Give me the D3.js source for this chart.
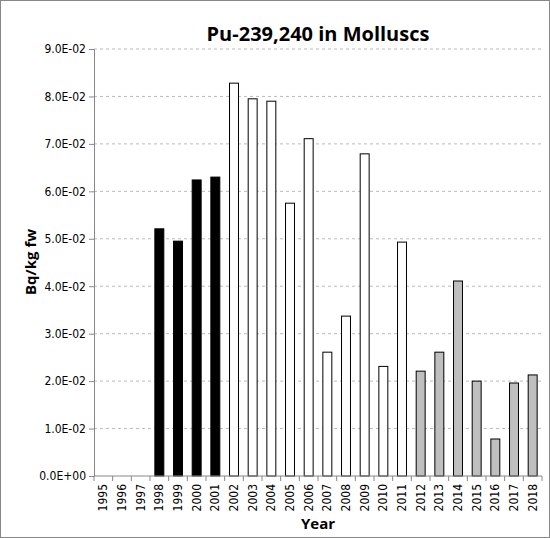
<!DOCTYPE html><html><head><script src="https://cdn.jsdelivr.net/npm/d3@7"></script>
<style>body{margin:0;background:#fff}</style></head><body><svg id="c" width="550" height="538"></svg>
<script>
const years=d3.range(1995,2019).map(String);
const values=[null,null,null,0.0521,0.0495,0.0624,0.0630,0.0828,0.0795,0.0790,0.0575,0.0711,0.0261,0.0337,0.0679,0.0231,0.0493,0.0221,0.0261,0.0411,0.0200,0.0078,0.0196,0.0213];
const groups=[0,0,0,0,0,0,0,1,1,1,1,1,1,1,1,1,1,2,2,2,2,2,2,2];
const fills=["#000","#fff","#bfbfbf"];
const yTicks=d3.range(0,0.0901,0.01);
const svg=d3.select("#c");
svg.append("rect").attr("x",0.5).attr("y",0.5).attr("width",549).attr("height",537).attr("fill","#fff").attr("stroke","#888");
const x=d3.scaleBand().domain(years).range([94,542]).paddingInner(0.52).paddingOuter(0.26);
const y=d3.scaleLinear().domain([0,0.09]).range([476,49]);
const f="'DejaVu Sans Condensed', 'DejaVu Sans', sans-serif";
const fb="'Open Sans', 'DejaVu Sans', sans-serif";
svg.append("g").selectAll("line").data(yTicks.slice(1)).join("line").attr("x1",94).attr("x2",542).attr("y1",d=>y(d)).attr("y2",d=>y(d)).attr("stroke","#bbb").attr("stroke-dasharray","3,3");
svg.append("g").selectAll("rect").data(values.map((v,i)=>({v,i})).filter(d=>d.v!=null)).join("rect")
 .attr("x",d=>x(years[d.i])).attr("width",x.bandwidth()).attr("y",d=>y(d.v)).attr("height",d=>y(0)-y(d.v))
 .attr("fill",d=>fills[groups[d.i]]).attr("stroke","#000").attr("stroke-width",1);
const ya=svg.append("g").attr("transform","translate(94,0)").call(d3.axisLeft(y).tickValues(yTicks).tickSize(5).tickFormat(d=>d.toExponential(1).replace("e-","E-0").replace("e+","E+0")));
ya.selectAll("text").attr("font-family",f).attr("font-size",12).attr("fill","#000");
ya.selectAll("line,path").attr("stroke","#888");
const step=x.step();
const xa=svg.append("g").attr("transform","translate(0,476)");
xa.append("line").attr("x1",94).attr("x2",542).attr("stroke","#888");
xa.selectAll("line.t").data(d3.range(25)).join("line").attr("class","t").attr("x1",d=>94+d*step).attr("x2",d=>94+d*step).attr("y1",0).attr("y2",5).attr("stroke","#888");
xa.selectAll("text").data(years).join("text").attr("font-family",f).attr("font-size",12)
 .attr("transform",d=>`translate(${x(d)+x.bandwidth()/2+4},8) rotate(-90)`).attr("text-anchor","end").text(d=>d);
svg.append("text").attr("x",318).attr("y",41).attr("text-anchor","middle").attr("font-family",fb).attr("font-weight","bold").attr("font-size",20).text("Pu-239,240 in Molluscs");
svg.append("text").attr("x",318).attr("y",529).attr("text-anchor","middle").attr("font-family",fb).attr("font-weight","bold").attr("font-size",15).text("Year");
svg.append("text").attr("transform","translate(36,262) rotate(-90)").attr("text-anchor","middle").attr("font-family",fb).attr("font-weight","bold").attr("font-size",15).text("Bq/kg fw");
</script></body></html>
